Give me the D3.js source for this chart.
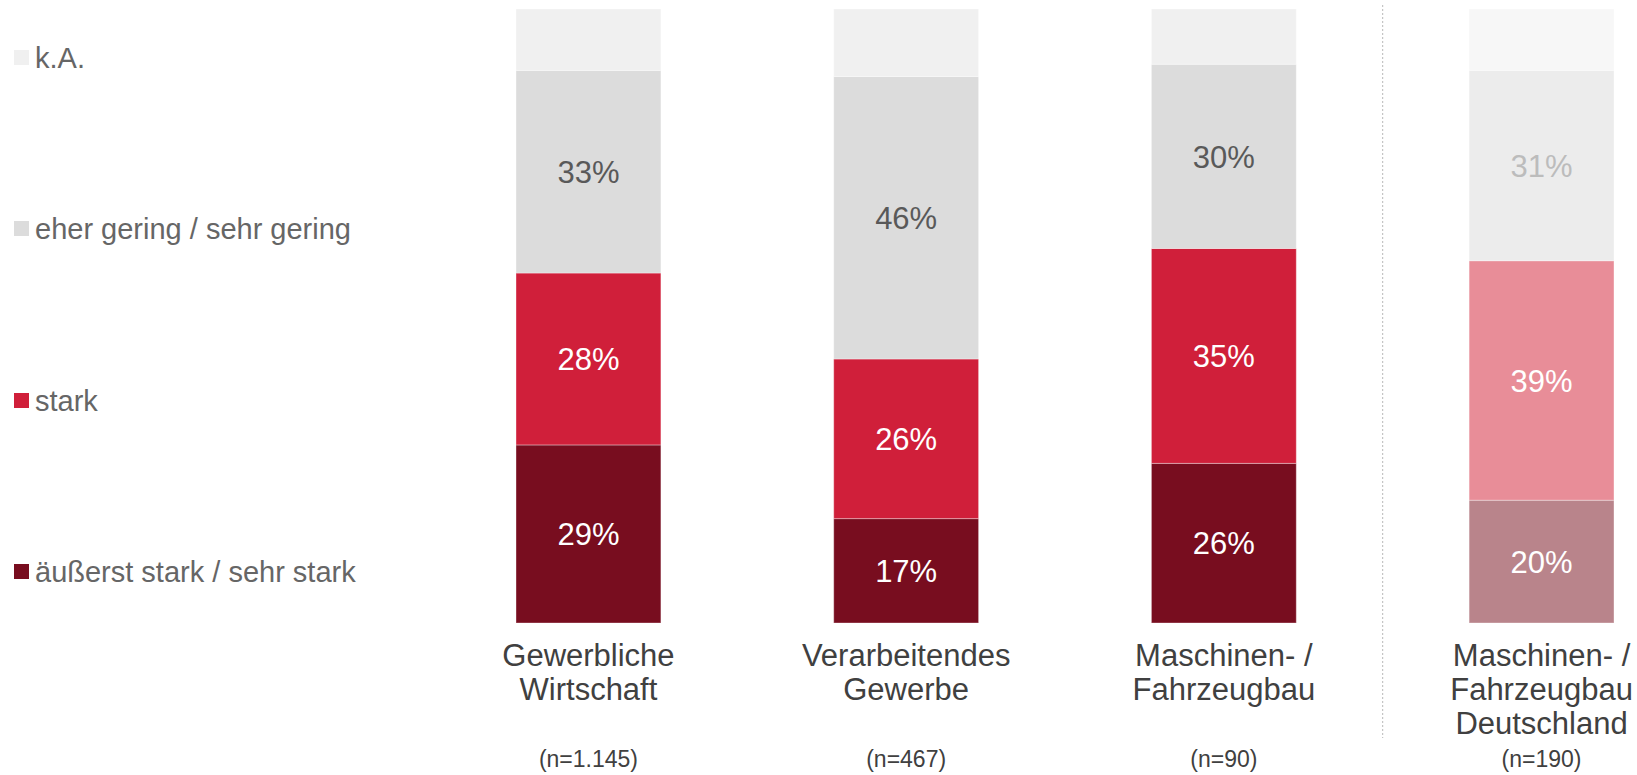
<!DOCTYPE html>
<html>
<head>
<meta charset="utf-8">
<script src="https://cdn.jsdelivr.net/npm/d3@7"></script>
<style>
  body { margin: 0; background: #fff; }
  svg { display: block; font-family: "Liberation Sans", Arial, sans-serif; }
</style>
</head>
<body>
<div id="chart"></div>
<script>
// data
let categories = ['Gewerbliche Wirtschaft', 'Verarbeitendes Gewerbe', 'Maschinen- / Fahrzeugbau', 'Maschinen- / Fahrzeugbau Deutschland']
let categoryLines = [
  ['Gewerbliche', 'Wirtschaft'],
  ['Verarbeitendes', 'Gewerbe'],
  ['Maschinen- /', 'Fahrzeugbau'],
  ['Maschinen- /', 'Fahrzeugbau', 'Deutschland']
]
let sampleSizes = ['(n=1.145)', '(n=467)', '(n=90)', '(n=190)']

let seriesNames = ['äußerst stark / sehr stark', 'stark', 'eher gering / sehr gering', 'k.A.']
let sehrStark = [29, 17, 26, 20]
let stark = [28, 26, 35, 39]
let gering = [33, 46, 30, 31]
let keineAngabe = [10, 11, 9, 10]

let colors = ['#780d1f', '#d01f3a', '#dcdcdc', '#f0f0f0']
let fadedColors = ['#b9848b', '#e88d98', '#ececec', '#f7f7f7']

let width = 1637
let height = 775

let svg = d3.select('#chart').append('svg')
  .attr('width', width)
  .attr('height', height)

let rows = categories.map((c, i) => ({
  category: c,
  index: i,
  [seriesNames[0]]: sehrStark[i],
  [seriesNames[1]]: stark[i],
  [seriesNames[2]]: gering[i],
  [seriesNames[3]]: keineAngabe[i]
}))

let stacked = d3.stack().keys(seriesNames)(rows)

let xScale = d3.scaleBand()
  .domain(categories)
  .range([429.6, 1700.4])
  .paddingInner(0.544)
  .paddingOuter(0.272)

let yScale = d3.scaleLinear()
  .domain([0, 100])
  .range([623, 9])

// bars
let layers = svg.selectAll('.layer')
  .data(stacked)
  .enter().append('g')
  .attr('class', 'layer')

layers.selectAll('rect')
  .data((layer, li) => layer.map(d => ({ d: d, li: li })))
  .enter().append('rect')
  .attr('x', o => xScale(o.d.data.category))
  .attr('width', xScale.bandwidth())
  .attr('y', o => yScale(o.d[1]))
  .attr('height', o => yScale(o.d[0]) - yScale(o.d[1]))
  .attr('fill', o => o.d.data.index === 3 ? fadedColors[o.li] : colors[o.li])
  .attr('stroke', 'rgba(255,255,255,0.35)')
  .attr('stroke-width', 1)

// value labels (not for k.A.)
layers.filter((l, li) => li < 3)
  .selectAll('.value-label')
  .data((layer, li) => layer.map(d => ({ d: d, li: li })))
  .enter().append('text')
  .attr('class', 'value-label')
  .attr('x', o => xScale(o.d.data.category) + xScale.bandwidth() / 2)
  .attr('y', o => yScale((o.d[0] + o.d[1]) / 2))
  .attr('dy', '0.36em')
  .attr('text-anchor', 'middle')
  .attr('font-size', 31)
  .attr('fill', o => {
    if (o.li < 2) return '#ffffff'
    return o.d.data.index === 3 ? '#bcbcbc' : '#595959'
  })
  .text(o => (o.d[1] - o.d[0]) + '%')

// category labels
categoryLines.forEach((lines, i) => {
  let cx = xScale(categories[i]) + xScale.bandwidth() / 2
  let t = svg.append('text')
    .attr('text-anchor', 'middle')
    .attr('font-size', 31)
    .attr('fill', '#404040')
  lines.forEach((line, j) => {
    t.append('tspan')
      .attr('x', cx)
      .attr('y', 666 + j * 34)
      .text(line)
  })
  svg.append('text')
    .attr('x', cx)
    .attr('y', 767)
    .attr('text-anchor', 'middle')
    .attr('font-size', 23)
    .attr('fill', '#404040')
    .text(sampleSizes[i])
})

// dotted separator
let sepX = (xScale(categories[2]) + xScale.bandwidth() + xScale(categories[3])) / 2
svg.append('line')
  .attr('x1', sepX).attr('x2', sepX)
  .attr('y1', 5).attr('y2', 738)
  .attr('stroke', '#b8b8b8')
  .attr('stroke-width', 1)
  .attr('stroke-dasharray', '2,2')

// legend
let legendOrder = [3, 2, 1, 0]
let legendY = [58, 229, 401, 572]

let legend = svg.selectAll('.legend')
  .data(legendOrder)
  .enter().append('g')
  .attr('class', 'legend')
  .attr('transform', (d, i) => `translate(14,${legendY[i]})`)

legend.append('rect')
  .attr('x', 0)
  .attr('y', -8)
  .attr('width', 15)
  .attr('height', 15)
  .attr('fill', d => colors[d])

legend.append('text')
  .attr('x', 21)
  .attr('y', 0)
  .attr('dy', '0.34em')
  .attr('font-size', 29)
  .attr('fill', '#666666')
  .text(d => seriesNames[d])
</script>
</body>
</html>
